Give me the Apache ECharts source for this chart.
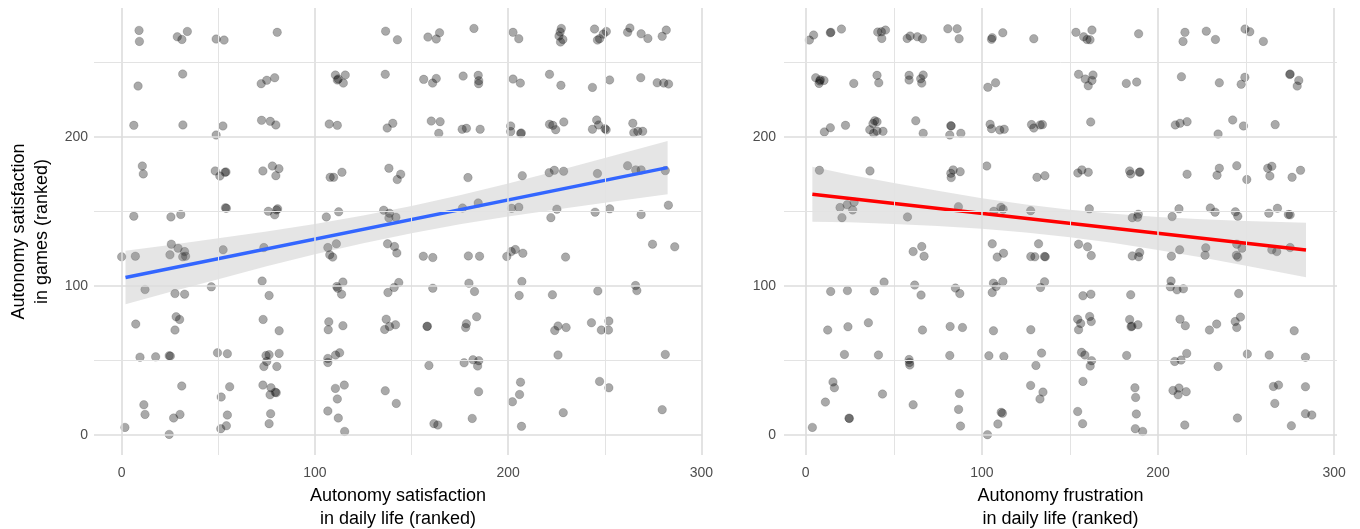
<!DOCTYPE html>
<html>
<head>
<meta charset="utf-8">
<script src="https://cdn.jsdelivr.net/npm/echarts@6/dist/echarts.min.js"></script>
<style>
html,body{margin:0;padding:0;background:#fff;}
#c{width:1360px;height:529px;}
</style>
</head>
<body>
<div id="c"></div>
<script>
// ---------- Left panel: autonomy satisfaction in daily life vs in games ----------
const leftX = [9.0,9.2,28.8,31.2,34.0,48.9,53.0,80.5,31.6,8.5,72.2,75.1,79.2,6.3,31.7,52.4,48.9,72.4,76.9,79.8,
10.7,11.2,48.4,50.8,53.5,54.0,73.1,78.0,81.4,79.8,6.3,25.5,30.6,54.2,53.7,75.9,79.2,80.7,80.2,
0,7.1,25.7,29.2,25.0,32.6,31.6,33.1,52.5,73.6,12.1,27.6,32.6,46.4,72.7,76.3,7.3,28.2,30.0,27.6,73.2,81.5,
9.5,17.6,24.6,25.2,49.6,54.7,73.6,75.1,74.7,76.3,81.5,80.3,31.1,55.9,51.5,73.1,77.3,76.8,80.0,79.5,
11.5,12.1,26.9,30.2,54.7,54.2,51.3,77.1,76.3,1.7,24.6,
136.6,142.7,158.5,162.8,164.5,182.3,202.5,110.6,111.6,112.1,114.7,115.7,136.4,156.3,160.9,162.8,176.7,184.5,184.8,184.7,202.5,
107.4,111.6,137.4,140.3,160.2,164.8,164.1,176.2,178.4,185.5,201.3,201.3,107.9,109.7,114.0,138.3,144.4,142.6,179.2,
105.9,112.3,135.6,138.6,138.3,141.9,176.4,184.5,201.8,205.5,
205.5,227.5,226.3,228.3,227.1,226.9,244.7,246.2,247.3,249.2,250.8,263.0,261.8,268.8,272.3,279.7,281.8,
206.3,221.4,227.3,243.6,252.5,268.6,277.1,280.5,283.0,
206.8,206.5,221.4,223.1,224.6,228.8,245.8,243.6,246.8,250.1,250.7,264.5,265.0,267.1,269.6,
207.3,221.2,223.9,228.7,246.2,261.8,266.0,268.8,281.3,
222.1,225.2,245.0,252.5,268.8,282.9,
106.7,111.1,107.7,109.2,137.6,141.2,142.4,156.1,161.0,179.4,185.2,199.3,201.6,203.7,207.6,
111.3,111.8,114.5,113.8,137.8,141.0,143.4,161.0,179.7,182.6,207.1,205.7,222.9,246.4,229.7,274.7,286.2,265.9,266.6,
107.2,106.9,114.5,136.9,138.6,136.1,141.7,158.0,158.2,178.4,178.0,183.7,225.8,224.1,230.0,243.1,248.2,251.9,252.1,225.8,281.3,
106.7,106.7,110.7,112.8,159.0,177.2,181.8,184.8,184.2,
110.6,115.2,111.6,106.7,112.1,115.4,136.4,142.1,161.6,163.6,184.7,181.4,206.4,205.9,202.2,206.9,228.5,247.3,252.1,279.7];
const leftY = [271.6,264.2,267.3,265.5,270.9,265.8,265.1,270.3,242.3,234.2,235.8,238.1,239.8,207.8,208.1,207.4,201.3,211.2,210.5,208.1,
180.5,175.2,177.2,173.8,176.3,176.5,177.2,180.5,178.7,174.0,146.8,146.3,147.9,152.1,152.4,150.1,147.7,151.7,151.0,
119.5,119.9,128.0,125.3,120.8,123.0,119.5,119.9,124.2,125.7,97.5,94.8,94.4,99.3,103.2,93.5,74.3,79.2,77.4,70.3,77.4,69.8,
52.1,52.3,53.0,52.8,55.0,54.4,45.8,49.2,53.2,53.7,54.6,45.8,32.7,32.2,25.3,33.3,31.5,26.8,28.2,28.5,
20.1,13.6,11.2,13.6,13.2,6.0,4.0,14.1,7.4,4.9,0.2,
271.1,265.3,267.1,265.8,270.0,272.9,270.3,241.6,238.3,239.0,236.2,241.6,242.1,238.7,236.2,239.3,240.9,241.4,237.8,235.8,238.9,
208.7,207.8,206.0,209.2,210.7,210.3,202.5,205.2,205.8,205.2,207.4,203.6,172.9,172.9,176.3,179.0,175.0,171.4,172.7,
146.3,149.7,150.8,148.8,145.6,146.1,152.3,155.7,152.1,152.8,
266.0,272.9,267.8,265.5,263.8,270.5,272.5,265.1,266.0,269.1,270.9,273.2,270.3,269.3,266.2,267.6,271.8,
236.2,242.1,234.7,233.3,238.3,239.8,236.4,236.2,235.6,
202.7,202.3,208.5,207.8,204.9,210.1,211.4,205.2,208.1,205.6,204.8,209.2,202.9,203.8,203.8,
174.0,176.0,177.6,177.0,175.4,180.7,177.9,177.9,177.4,
145.8,151.5,149.5,151.7,147.9,154.2,
125.7,128.2,120.8,119.3,128.2,126.4,122.1,119.9,119.0,120.1,119.9,119.7,123.0,124.4,121.9,
99.5,98.4,102.5,94.4,95.5,98.9,102.2,98.4,101.8,96.2,102.9,93.5,94.0,96.6,119.3,128.0,126.2,100.2,96.8,
75.8,70.5,73.2,77.6,72.7,70.7,73.8,72.7,72.9,74.5,72.0,79.2,73.0,70.0,72.0,75.2,70.3,70.3,76.3,53.5,53.9,
51.2,48.5,53.5,55.0,46.5,48.3,50.3,49.7,46.1,
31.1,33.3,24.0,15.9,11.2,2.2,29.5,21.0,7.4,6.5,28.9,10.9,35.3,27.0,22.1,5.6,14.8,35.8,31.5,16.8];

// ---------- Right panel: autonomy frustration in daily life vs satisfaction in games ----------
const rightX = [2.1,4.5,14.0,14.3,20.3,40.9,43.0,45.3,43.2,57.6,59.3,63.4,66.3,80.7,86.0,87.1,
5.7,8.0,8.3,10.4,7.6,27.3,40.5,41.5,58.7,58.7,65.3,66.7,65.9,
10.6,14.0,22.6,36.4,39.2,40.5,38.6,40.5,43.9,38.2,62.5,66.7,82.4,82.6,81.8,88.1,
7.8,36.5,82.4,83.7,82.6,87.7,19.5,23.5,27.5,26.7,20.6,57.8,86.7,
105.9,105.5,111.9,129.5,153.4,157.8,162.5,159.7,161.4,189.0,
103.4,107.8,154.9,158.7,163.1,162.5,160.4,182.0,187.9,
104.7,105.5,110.2,112.7,128.2,129.5,133.1,134.4,161.8,
102.8,131.3,135.8,154.5,156.8,160.4,183.9,184.5,189.4,189.8,
106.8,110.8,112.1,127.7,161.0,185.4,188.8,188.4,
215.3,214.2,227.4,232.6,249.4,252.1,259.8,
213.3,234.8,249.3,247.2,275.0,274.8,279.9,279.0,
209.8,212.5,216.5,234.1,242.4,248.5,266.5,
216.5,234.8,233.5,244.7,250.4,262.3,264.6,263.5,276.1,280.9,
211.9,208.0,229.7,232.4,243.9,245.3,262.9,267.8,274.0,275.0,
61.0,65.9,67.2,14.2,23.7,39.0,44.5,61.9,65.5,85.0,87.5,
12.5,24.0,35.6,66.3,82.0,89.0,22.0,41.3,58.7,58.9,59.1,81.8,
15.5,16.3,11.2,43.6,61.0,87.3,86.8,24.8,24.6,3.8,87.9,
105.9,108.7,112.3,132.2,127.8,130.1,136.0,135.6,154.9,160.0,162.1,185.4,189.6,189.0,
106.6,111.9,108.1,105.9,135.6,133.3,157.4,161.9,184.5,
106.6,127.8,154.4,156.1,154.9,161.2,162.1,183.9,184.7,185.2,188.6,
104.0,112.5,133.9,130.7,156.6,158.5,162.3,161.5,182.2,
127.7,134.7,133.0,157.4,186.9,187.3,111.0,111.7,109.1,103.2,154.4,157.2,187.7,187.1,191.3,
207.6,212.3,227.1,226.7,244.7,247.7,244.5,245.3,264.6,267.4,275.0,
207.4,207.0,210.8,214.4,245.8,
212.5,215.5,229.2,233.3,243.8,246.8,244.7,277.3,
216.3,213.1,209.5,234.1,250.7,263.1,283.7,
208.5,211.9,211.4,216.0,265.5,268.4,266.3,283.7,283.7,287.3,215.2,245.1,275.7];
const rightY = [265.1,268.5,270.0,270.3,272.5,270.5,270.7,271.8,266.2,266.2,267.8,267.3,266.0,272.7,272.7,266.0,
239.8,237.6,238.5,238.0,236.0,236.0,241.4,236.4,241.4,238.3,239.1,241.6,236.2,
203.4,206.2,207.8,204.9,210.9,210.2,202.5,204.0,203.8,209.0,210.9,202.5,207.6,207.4,201.3,202.5,
177.6,177.2,175.6,177.9,172.7,176.7,152.6,154.4,156.2,151.0,145.8,146.3,153.2,
266.7,265.6,270.0,266.0,270.3,267.3,271.8,265.5,265.3,269.3,
233.4,236.4,242.1,238.9,241.6,238.0,234.4,236.0,236.9,
208.5,205.6,204.7,205.2,208.3,206.0,208.1,208.3,210.1,
180.5,172.9,174.0,175.8,177.9,176.3,177.2,175.2,176.3,176.5,
150.1,152.8,151.5,150.5,151.7,145.8,148.1,146.0,
270.3,264.2,271.1,265.5,272.5,270.7,264.2,
240.5,236.4,240.1,235.4,242.3,242.0,238.0,234.2,
208.1,209.2,210.3,202.0,211.4,207.4,208.3,
175.0,179.0,174.3,180.7,171.4,179.0,180.3,173.8,172.9,177.6,
151.7,146.5,152.3,149.5,149.7,146.8,148.8,152.1,147.9,147.7,
123.0,126.4,119.9,96.2,96.8,96.6,102.5,100.5,93.8,98.5,94.8,
70.3,72.5,75.2,70.3,72.7,72.0,53.9,53.5,50.5,48.5,46.8,53.2,
35.4,31.5,21.9,27.3,20.1,27.7,17.0,10.9,11.1,4.9,5.8,
128.2,119.3,121.9,128.2,119.7,119.5,119.5,119.7,128.0,126.2,120.3,120.1,122.4,119.5,
101.8,102.9,99.5,95.5,102.7,98.9,93.3,94.4,94.0,
69.8,70.5,77.6,74.7,70.5,79.4,76.0,77.4,72.5,72.9,73.8,
53.0,52.6,54.8,46.5,55.3,53.5,49.7,46.1,53.2,
33.1,28.6,24.0,35.8,31.5,25.0,15.0,14.4,7.2,0.0,15.6,7.4,13.9,4.0,2.2,
119.9,124.2,125.5,120.6,128.0,125.3,120.6,119.3,124.2,123.0,125.7,
103.2,99.3,97.3,98.0,94.8,
77.6,73.2,70.3,74.3,76.0,79.0,72.0,69.8,
54.6,50.1,49.2,45.8,54.2,53.5,52.1,
29.7,31.3,26.8,28.9,32.4,33.3,21.0,32.2,14.1,13.2,6.5,11.2,6.0];

// ---------- Fitted lines and 95% bands ----------
const leftLineX = [2, 282.5];
const leftLineY = [105.6, 179.4];
const leftBandX = [2, 25, 50, 75, 100, 125, 150, 175, 200, 225, 250, 282.5];
const leftBandLow = [87.6, 95.8, 104.5, 113.1, 121.2, 128.6, 135.4, 141.3, 146.6, 151.3, 155.8, 161.5];
const leftBandHigh = [123.6, 127.4, 131.9, 136.5, 141.6, 147.2, 153.6, 160.9, 168.8, 177.1, 185.8, 197.3];

const rightLineX = [3.8, 284];
const rightLineY = [161.5, 124.0];
const rightBandX = [3.8, 25, 50, 75, 100, 125, 150, 175, 200, 225, 250, 284];
const rightBandLow = [143.0, 142.7, 141.5, 140.2, 138.3, 135.9, 132.7, 128.8, 124.1, 119.0, 113.5, 105.7];
const rightBandHigh = [180.0, 174.7, 169.1, 163.8, 158.9, 154.7, 151.1, 148.4, 146.3, 144.8, 143.5, 142.3];

// ---------- Axis settings ----------
const tickValues = [0, 100, 200, 300];
const yTickValues = [0, 100, 200];
const majorGrid = [0, 100, 200, 300];
const minorGrid = [50, 150, 250];
const yMajorGrid = [0, 100, 200];
const yMinorGrid = [50, 150, 250];
const leftXTitle = 'Autonomy satisfaction\nin daily life (ranked)';
const rightXTitle = 'Autonomy frustration\nin daily life (ranked)';
const yTitle = 'Autonomy satisfaction\nin games (ranked)';

const FONT = '"Liberation Sans", Arial, sans-serif';
const pair = (xs, ys) => xs.map((x, i) => [x, ys[i]]);

function gridLines() {
  const maj = {color: '#dcdcdc', width: 1.6, type: 'solid'};
  const min = {color: '#e3e3e3', width: 1.0, type: 'solid'};
  const d = [];
  majorGrid.forEach(v => d.push({xAxis: v, lineStyle: maj}));
  minorGrid.forEach(v => d.push({xAxis: v, lineStyle: min}));
  yMajorGrid.forEach(v => d.push({yAxis: v, lineStyle: maj}));
  yMinorGrid.forEach(v => d.push({yAxis: v, lineStyle: min}));
  return d;
}

function bandSeries(idx, bx, lo, hi) {
  return {
    type: 'custom', xAxisIndex: idx, yAxisIndex: idx, z: 3, silent: true,
    data: [[bx[0], lo[0]]],
    renderItem: function (params, api) {
      const pts = [];
      for (let i = 0; i < bx.length; i++) pts.push(api.coord([bx[i], hi[i]]));
      for (let i = bx.length - 1; i >= 0; i--) pts.push(api.coord([bx[i], lo[i]]));
      return {type: 'polygon', shape: {points: pts}, style: {fill: 'rgba(153,153,153,0.25)'}};
    }
  };
}

function xAxis(idx, name) {
  return {
    type: 'value', gridIndex: idx, min: idx === 0 ? -14.3 : -12.3, max: idx === 0 ? 300.3 : 301.6,
    axisLine: {show: false}, axisTick: {show: false}, splitLine: {show: false},
    axisLabel: {customValues: tickValues, color: '#4d4d4d', fontSize: 14, fontFamily: FONT, margin: 11},
    name: name, nameLocation: 'middle', nameGap: 29,
    nameTextStyle: {color: '#000', fontSize: 18, fontFamily: FONT, lineHeight: 23}
  };
}
function yAxis(idx) {
  return {
    type: 'value', gridIndex: idx, min: -13.65, max: 286.65,
    axisLine: {show: false}, axisTick: {show: false}, splitLine: {show: false},
    axisLabel: {customValues: yTickValues, color: '#4d4d4d', fontSize: 14, fontFamily: FONT, margin: idx === 0 ? 6 : 8},
    name: idx === 0 ? yTitle : '', nameLocation: 'middle', nameGap: 40, nameRotate: 90,
    nameTextStyle: {color: '#000', fontSize: 18, fontFamily: FONT, lineHeight: 23}
  };
}

const pointStyle = {color: 'rgba(0,0,0,0.42)', borderColor: 'rgba(0,0,0,0.25)', borderWidth: 0.8};

const option = {
  animation: false,
  backgroundColor: '#ffffff',
  grid: [
    {left: 94, top: 8, width: 608, height: 447, outerBoundsMode: 'none', containLabel: false},
    {left: 784, top: 8, width: 553, height: 447, outerBoundsMode: 'none', containLabel: false}
  ],
  xAxis: [xAxis(0, leftXTitle), xAxis(1, rightXTitle)],
  yAxis: [yAxis(0), yAxis(1)],
  series: [
    {type: 'scatter', xAxisIndex: 0, yAxisIndex: 0, data: [], z: 0, silent: true,
     markLine: {silent: true, symbol: 'none', label: {show: false}, data: gridLines(), animation: false}},
    {type: 'scatter', xAxisIndex: 1, yAxisIndex: 1, data: [], z: 0, silent: true,
     markLine: {silent: true, symbol: 'none', label: {show: false}, data: gridLines(), animation: false}},
    {type: 'scatter', xAxisIndex: 0, yAxisIndex: 0, z: 2, symbolSize: 8.5, itemStyle: pointStyle, data: pair(leftX, leftY)},
    {type: 'scatter', xAxisIndex: 1, yAxisIndex: 1, z: 2, symbolSize: 8.5, itemStyle: pointStyle, data: pair(rightX, rightY)},
    bandSeries(0, leftBandX, leftBandLow, leftBandHigh),
    bandSeries(1, rightBandX, rightBandLow, rightBandHigh),
    {type: 'line', xAxisIndex: 0, yAxisIndex: 0, z: 4, symbol: 'none', data: pair(leftLineX, leftLineY),
     lineStyle: {color: '#3366FF', width: 3.5}},
    {type: 'line', xAxisIndex: 1, yAxisIndex: 1, z: 4, symbol: 'none', data: pair(rightLineX, rightLineY),
     lineStyle: {color: '#FF0000', width: 3.5}}
  ]
};

const chart = echarts.init(document.getElementById('c'), null, {renderer: 'canvas'});
chart.setOption(option);
</script>
</body>
</html>
